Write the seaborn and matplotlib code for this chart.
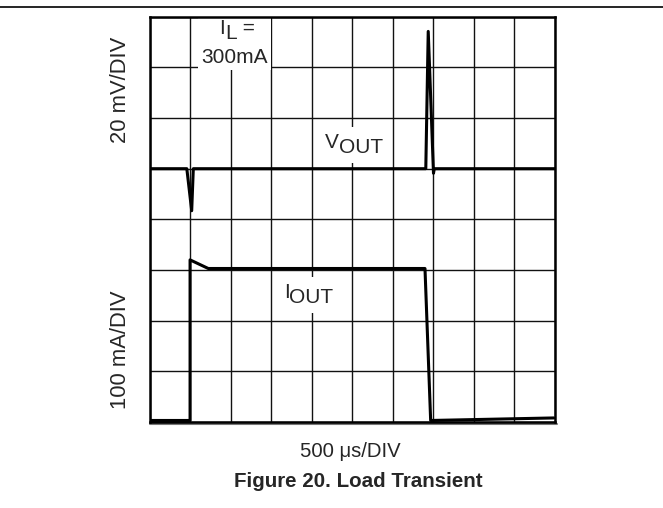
import matplotlib
matplotlib.use("Agg")
import matplotlib.pyplot as plt
from matplotlib.patches import Rectangle
from matplotlib.lines import Line2D
from matplotlib.transforms import Bbox
import seaborn as sns


# scope traces, in grid divisions (x: 500 us/div, 10 div; y: 8 div)
vout_x = [0, 0.91, 1.03, 1.07, 6.81, 6.87, 7.0, 7.02, 10]
vout_y = [5, 5, 4.17, 5, 5, 7.71, 4.91, 5, 5]

iout_x = [0, 0.99, 0.99, 1.44, 6.79, 6.93, 9.97]
iout_y = [0.03, 0.03, 3.2, 3.03, 3.03, 0.03, 0.08]

n_xdiv = 10
n_ydiv = 8

sns.set_style("white")
plt.rcParams["font.family"] = ["Liberation Sans", "DejaVu Sans"]
FS = 15

fig = plt.figure(figsize=(6.63, 5.08), dpi=100)
ax = fig.add_axes([0.2262, 0.1693, 0.6109, 0.7978])

sns.lineplot(x=vout_x, y=vout_y, ax=ax, color="black", lw=2.2,
             estimator=None, sort=False)
sns.lineplot(x=iout_x, y=iout_y, ax=ax, color="black", lw=2.2,
             estimator=None, sort=False)

ax.set_xlim(0, n_xdiv)
ax.set_ylim(0, n_ydiv)
ax.set_xticks(range(n_xdiv + 1))
ax.set_yticks(range(n_ydiv + 1))
ax.tick_params(length=0, labelbottom=False, labelleft=False)
ax.set_axisbelow(True)
ax.grid(True, color="#111111", lw=1.0)
for s in ax.spines.values():
    s.set_linewidth(1.8)
    s.set_color("black")
ax.set_xlabel("")
ax.set_ylabel("")

# grey shadow under the bottom edge
ax.plot([0, 1.004], [-0.006, -0.006], transform=ax.transAxes,
        color="#777777", lw=1.5, clip_on=False)


def sub_label(x, y, main, sub, tail="", drop=3.6):
    t1 = ax.text(x, y, main, fontsize=FS, zorder=5)
    t2 = ax.annotate(sub, xy=(1, 0), xycoords=t1, xytext=(0, -drop),
                     textcoords="offset points", va="bottom",
                     fontsize=FS, zorder=5)
    parts = [t1, t2]
    if tail:
        t3 = ax.annotate(tail, xy=(1, 0), xycoords=t2, xytext=(0, drop),
                         textcoords="offset points", va="bottom",
                         fontsize=FS, zorder=5)
        parts.append(t3)
    return parts


il_parts = sub_label(1.71, 7.66, "I", "L", " =")
il_parts.append(ax.text(2.09, 7.08, "300mA", ha="center", fontsize=FS, zorder=5))
vout_parts = sub_label(4.33, 5.41, "V", "OUT")
iout_parts = sub_label(3.30, 2.44, "I", "OUT")

# white backgrounds behind the labels
fig.canvas.draw()
r = fig.canvas.get_renderer()
inv = ax.transData.inverted()
for parts, pad in [(il_parts, 3), (vout_parts, 6), (iout_parts, 6)]:
    bb = Bbox.union([p.get_window_extent(r) for p in parts]).padded(pad)
    bb = bb.transformed(inv)
    ax.add_patch(Rectangle((bb.x0, bb.y0), bb.width, bb.height,
                           facecolor="white", edgecolor="none", zorder=1.5))

fig.text(0.1825, 0.823, "20 mV/DIV", rotation=90, ha="center", va="center",
         fontsize=15.8)
fig.text(0.1825, 0.311, "100 mA/DIV", rotation=90, ha="center", va="center",
         fontsize=15.8)
fig.text(0.529, 0.112, "500 \u03bcs/DIV", ha="center", va="center", fontsize=14.6)
fig.text(0.540, 0.053, "Figure 20. Load Transient", ha="center", va="center",
         fontsize=14.8, fontweight="bold")

fig.add_artist(Line2D([0, 1], [0.987, 0.987], color="black", lw=1.2))

fig.savefig("out.png", dpi=100)
